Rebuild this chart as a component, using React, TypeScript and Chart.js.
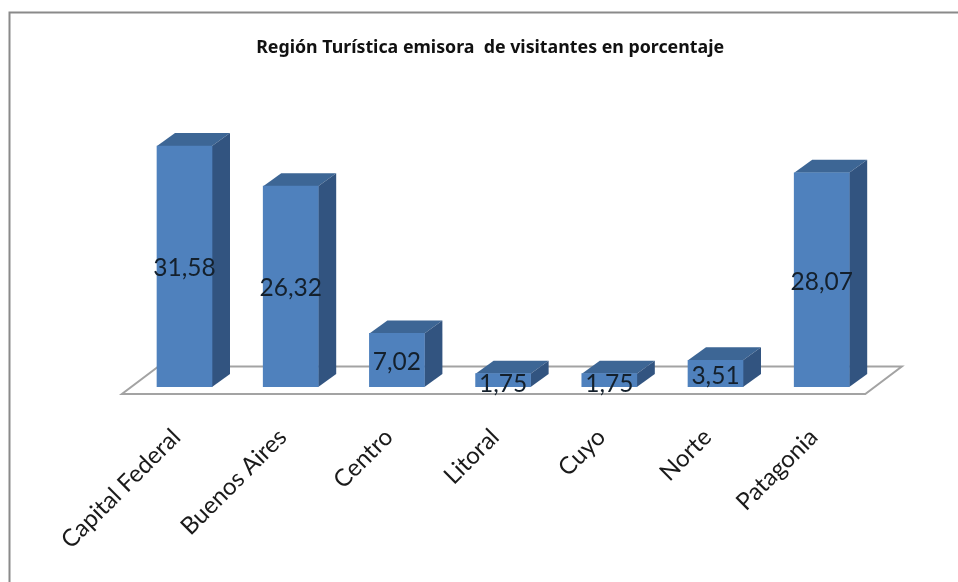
import React, { useEffect, useRef } from "react";
import { Chart, registerables } from "chart.js";

Chart.register(...registerables);

const categories = ["Capital Federal", "Buenos Aires", "Centro", "Litoral", "Cuyo", "Norte", "Patagonia"];
const values = [31.58, 26.32, 7.02, 1.75, 1.75, 3.51, 28.07];
const valueLabels = ["31,58", "26,32", "7,02", "1,75", "1,75", "3,51", "28,07"];
const chartTitle = "Región Turística emisora  de visitantes en porcentaje";

const FONT = "Lato, 'Noto Sans', sans-serif";
const TITLE_FONT = "'Noto Sans', sans-serif";
const DX = 18;
const DY = 13;

function poly(ctx: CanvasRenderingContext2D, pts: number[][], fill: string) {
  ctx.beginPath();
  pts.forEach((p, i) => (i ? ctx.lineTo(p[0], p[1]) : ctx.moveTo(p[0], p[1])));
  ctx.closePath();
  ctx.fillStyle = fill;
  ctx.fill();
}

const bar3d = {
  id: "bar3d",
  afterLayout(chart: any) {
    if (chart.titleBlock) {
      chart.titleBlock.left -= 13;
      chart.titleBlock.right -= 13;
    }
  },
  beforeDatasetsDraw(chart: any) {
    const { ctx, chartArea } = chart;
    const base = chartArea.bottom;
    const l = chartArea.left;
    const r = chartArea.right;
    ctx.save();
    ctx.beginPath();
    ctx.moveTo(l - 9.5, base + 7);
    ctx.lineTo(r - 9.5, base + 7);
    ctx.lineTo(r + 27, base - 20.5);
    ctx.lineTo(l + 27, base - 20.5);
    ctx.closePath();
    ctx.fillStyle = "#ffffff";
    ctx.fill();
    ctx.lineWidth = 2;
    ctx.strokeStyle = "#a3a3a3";
    ctx.stroke();
    ctx.restore();
    const meta = chart.getDatasetMeta(0);
    ctx.save();
    meta.data.forEach((b: any) => {
      const left = b.x - b.width / 2;
      const right = b.x + b.width / 2;
      poly(ctx, [[left, b.y], [left + DX, b.y - DY], [right + DX, b.y - DY], [right, b.y]], "#3d6695");
      poly(ctx, [[right, b.y], [right + DX, b.y - DY], [right + DX, b.base - DY], [right, b.base]], "#325480");
    });
    ctx.restore();
  },
  afterDatasetsDraw(chart: any) {
    const { ctx } = chart;
    const meta = chart.getDatasetMeta(0);
    ctx.save();
    ctx.font = "24.5px " + FONT;
    ctx.fillStyle = "#14202c";
    ctx.textAlign = "center";
    ctx.textBaseline = "middle";
    meta.data.forEach((b: any, i: number) => {
      const h = b.base - b.y;
      const y = h < 20 ? b.base - 3 : (b.y + b.base) / 2 + 2;
      ctx.fillText(valueLabels[i], b.x, y);
    });
    ctx.restore();
  },
  afterDraw(chart: any) {
    const { ctx } = chart;
    ctx.save();
    ctx.strokeStyle = "#8a8a8a";
    ctx.lineWidth = 2;
    ctx.beginPath();
    ctx.moveTo(9.5, 582);
    ctx.lineTo(9.5, 12.5);
    ctx.lineTo(958, 12.5);
    ctx.stroke();
    ctx.restore();
  },
};

export default function App() {
  const ref = useRef<HTMLCanvasElement>(null);
  useEffect(() => {
    const chart = new Chart(ref.current!, {
      type: "bar",
      data: {
        labels: categories,
        datasets: [{ data: values, backgroundColor: "#4f81bd", barThickness: 55 }],
      },
      plugins: [bar3d],
      options: {
        animation: false,
        responsive: false,
        layout: { padding: { left: 131.4, right: 83.2, top: 0, bottom: 0 } },
        plugins: {
          legend: { display: false },
          tooltip: { enabled: false },
          title: {
            display: true,
            text: chartTitle,
            color: "#111111",
            font: { family: TITLE_FONT, size: 17.8, weight: "bold" },
            padding: { top: 37, bottom: 61.6 },
          },
        },
        scales: {
          y: { display: false, min: 0, max: 35 },
          x: {
            offset: true,
            grid: { display: false },
            border: { display: false },
            afterFit(scale: any) {
              scale.height = 195;
            },
            ticks: {
              minRotation: 45,
              maxRotation: 45,
              padding: 28,
              labelOffset: -8,
              color: "#1a1a1a",
              font: { family: FONT, size: 24 },
            },
          },
        },
      },
    } as any);
    return () => chart.destroy();
  }, []);
  return (
    <div style={{ position: "fixed", left: 0, top: 0, width: 958, height: 582, background: "#fff", overflow: "hidden" }}>
      <canvas ref={ref} width={958} height={582} style={{ display: "block", width: 958, height: 582, filter: "blur(0.4px)" }} />
    </div>
  );
}
